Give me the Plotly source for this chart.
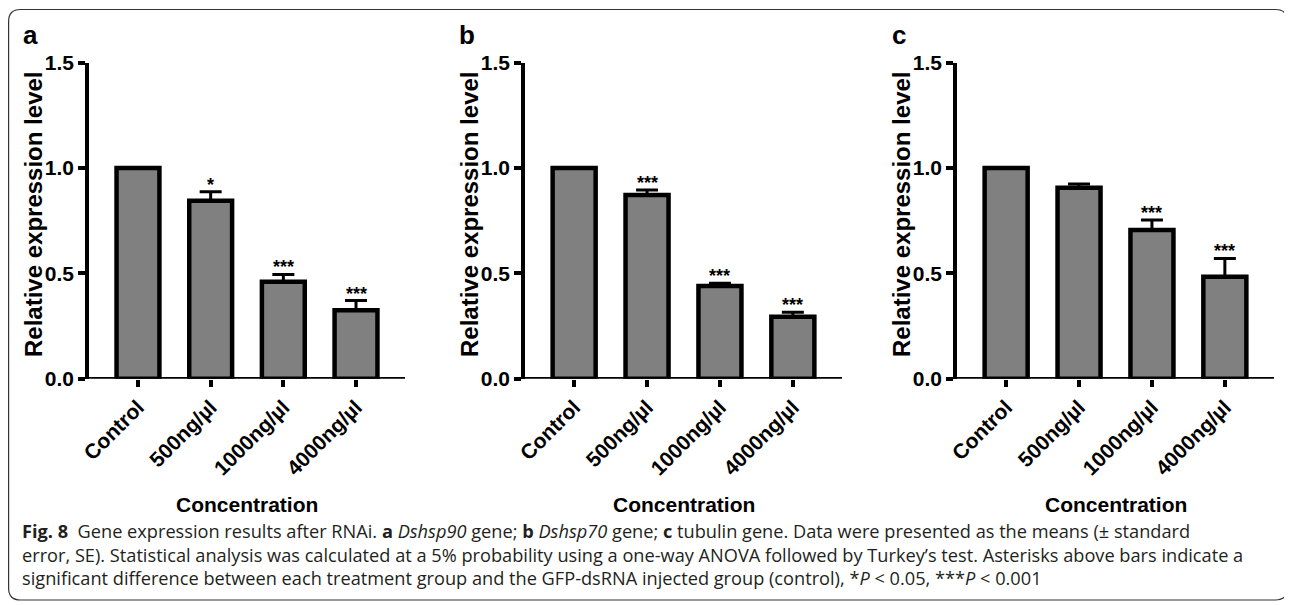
import plotly.graph_objects as go

# ---------------- data ----------------
categories = ["Control", "500ng/µl", "1000ng/µl", "4000ng/µl"]

mean_a = [1.0, 0.845, 0.46, 0.325]
err_a = [0.0, 0.042, 0.035, 0.046]
sig_a = ["", "*", "***", "***"]

mean_b = [1.0, 0.872, 0.44, 0.294]
err_b = [0.0, 0.024, 0.013, 0.021]
sig_b = ["", "***", "***", "***"]

mean_c = [1.0, 0.906, 0.706, 0.484]
err_c = [0.0, 0.018, 0.047, 0.087]
sig_c = ["", "", "***", "***"]

panel_letters = ["a", "b", "c"]
y_ticks = [0, 0.5, 1.0, 1.5]
y_ticktext = ["0.0", "0.5", "1.0", "1.5"]
y_title = "Relative expression level"
x_title = "Concentration"

caption_lines = [
    "<b>Fig. 8</b>  Gene expression results after RNAi. <b>a</b> <i>Dshsp90</i> gene; <b>b</b> <i>Dshsp70</i> gene; "
    "<b>c</b> tubulin gene. Data were presented as the means (± standard",
    "error, SE). Statistical analysis was calculated at a 5% probability using a one-way ANOVA followed by "
    "Turkey’s test. Asterisks above bars indicate a",
    "significant difference between each treatment group and the GFP-dsRNA injected group (control), "
    "*<i>P</i> &lt; 0.05, ***<i>P</i> &lt; 0.001",
]

# ---------------- layout helpers (page pixels -> paper) ----------------
# the page body has an 8px margin, so the figure is sized to fit the window
OFF = 8
W, H = 1292 - OFF, 605 - OFF


def px(x):
    return (x - OFF) / W


def py(y):
    return 1 - (y - OFF) / H


panels = [
    dict(mean=mean_a, err=err_a, sig=sig_a, x0=89, x1=405),
    dict(mean=mean_b, err=err_b, sig=sig_b, x0=525, x1=842),
    dict(mean=mean_c, err=err_c, sig=sig_c, x0=957, x1=1274),
]
y_top, y_bot = 62.7, 378.7
FONT = "Liberation Sans, Arial, sans-serif"

fig = go.Figure()
annotations = []
shapes = []
xpos = list(range(len(categories)))

for i, p in enumerate(panels):
    sfx = "" if i == 0 else str(i + 1)
    fig.add_trace(go.Bar(
        x=xpos, y=p["mean"], width=0.59,
        marker=dict(color="#808080", line=dict(color="black", width=4.5)),
        error_y=dict(type="data", symmetric=False, array=p["err"],
                     arrayminus=[0] * len(p["err"]),
                     color="black", thickness=3, width=11),
        xaxis="x" + sfx, yaxis="y" + sfx, showlegend=False,
    ))
    fig.layout["xaxis" + sfx] = dict(
        domain=[px(p["x0"]), px(p["x1"])], anchor="y" + sfx,
        range=[-0.674, len(categories) - 1 + 0.674],
        tickmode="array", tickvals=xpos, ticktext=categories,
        tickangle=-45, ticks="outside", ticklen=7, tickwidth=3.5, tickcolor="black",
        showline=False, showgrid=False, zeroline=False, automargin=False,
        tickfont=dict(family=FONT, size=21, color="black", weight="bold"),
    )
    fig.layout["yaxis" + sfx] = dict(
        domain=[py(y_bot), py(y_top)], anchor="x" + sfx,
        range=[0, 1.5], tickmode="array", tickvals=y_ticks, ticktext=y_ticktext,
        ticks="outside", ticklen=7, tickwidth=3.5, tickcolor="black",
        showline=True, linewidth=3.5, linecolor="black",
        showgrid=False, zeroline=False, automargin=False,
        tickfont=dict(family=FONT, size=21, color="black", weight="bold"),
    )
    # baseline (extends slightly left of y axis)
    shapes.append(dict(type="line", xref="x" + sfx + " domain", yref="y" + sfx,
                       x0=-0.024, x1=1, y0=0, y1=0,
                       line=dict(color="black", width=3.5), layer="above"))
    # significance stars
    for j, s in enumerate(p["sig"]):
        if s:
            annotations.append(dict(
                x=xpos[j], y=p["mean"][j] + p["err"][j], xref="x" + sfx, yref="y" + sfx,
                text="<b>" + s + "</b>", showarrow=False, yanchor="bottom", yshift=-5,
                font=dict(family=FONT, size=18, color="black")))
    # y title
    annotations.append(dict(
        x=px(p["x0"] - 56), y=py(214), xref="paper", yref="paper",
        text="<b>" + y_title + "</b>", textangle=-90, showarrow=False,
        xanchor="center", yanchor="middle",
        font=dict(family=FONT, size=24, color="black")))
    # x title
    annotations.append(dict(
        x=px((p["x0"] + p["x1"]) / 2), y=py(504), xref="paper", yref="paper",
        text="<b>" + x_title + "</b>", showarrow=False,
        xanchor="center", yanchor="middle",
        font=dict(family=FONT, size=21, color="black")))
    # panel letter
    annotations.append(dict(
        x=px(p["x0"] - 58), y=py(35), xref="paper", yref="paper",
        text="<b>" + panel_letters[i] + "</b>", showarrow=False,
        xanchor="center", yanchor="middle",
        font=dict(family=FONT, size=26, color="black")))

# caption (one multi-line text block)
annotations.append(dict(
    x=px(20), y=py(554), xref="paper", yref="paper",
    text="<br>".join(caption_lines), showarrow=False,
    xanchor="left", yanchor="middle", align="left",
    font=dict(family="Open Sans, sans-serif", size=18.2, color="#231f20")))

# rounded frame
x0f, x1f, y0f, y1f, r = 8.6, 1287.5, 9.5, 600, 12
path = (f"M {px(x0f + r)},{py(y0f)} L {px(x1f - r)},{py(y0f)} "
        f"Q {px(x1f)},{py(y0f)} {px(x1f)},{py(y0f + r)} "
        f"L {px(x1f)},{py(y1f - r)} Q {px(x1f)},{py(y1f)} {px(x1f - r)},{py(y1f)} "
        f"L {px(x0f + r)},{py(y1f)} Q {px(x0f)},{py(y1f)} {px(x0f)},{py(y1f - r)} "
        f"L {px(x0f)},{py(y0f + r)} Q {px(x0f)},{py(y0f)} {px(x0f + r)},{py(y0f)} Z")
shapes.append(dict(type="path", xref="paper", yref="paper", path=path,
                   line=dict(color="#333333", width=1.2), layer="below"))

fig.update_layout(
    template="none",
    width=W, height=H, autosize=False,
    margin=dict(l=0, r=0, t=0, b=0, pad=0, autoexpand=False),
    paper_bgcolor="white", plot_bgcolor="white",
    showlegend=False,
    bargap=0.3, annotations=annotations, shapes=shapes,
)

fig.write_html("out.html")
